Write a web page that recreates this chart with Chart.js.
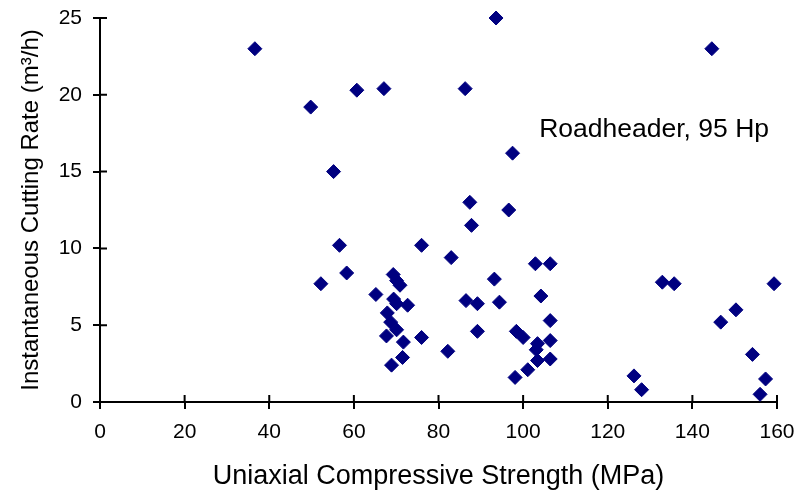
<!DOCTYPE html>
<html>
<head>
<meta charset="utf-8">
<script src="https://cdn.jsdelivr.net/npm/chart.js@4/dist/chart.umd.min.js"></script>
<style>
  body { margin: 0; background: #fff; }
</style>
</head>
<body>
<canvas id="chart" width="799" height="495"></canvas>
<script>
// UCS (MPa) and instantaneous cutting rate (m3/h)
const ucs = [
  36.6, 49.8, 60.7, 67.1, 55.2, 56.6, 93.6, 144.6, 86.3, 97.5,
  87.4, 96.6, 87.8, 76.0, 83.0, 58.3, 52.2, 69.3, 70.1, 70.9,
  65.2, 69.4, 70.1, 72.7, 67.9, 68.7, 70.1, 67.7, 71.7, 76.0,
  71.5, 68.9, 82.2, 102.9, 106.4, 93.2, 104.2, 86.5, 89.2, 94.4,
  106.4, 89.2, 98.4, 100.0, 103.4, 103.1, 106.4, 103.4, 106.4, 101.1,
  98.1, 132.9, 135.7, 159.3, 150.3, 146.7, 154.2, 126.2, 128.0, 157.3,
  156.0
];
const cuttingRate = [
  23.0, 19.2, 20.3, 20.4, 15.0, 10.2, 25.0, 23.0, 20.4, 16.2,
  13.0, 12.5, 11.5, 10.2, 9.4, 8.4, 7.7, 8.3, 7.9, 7.6,
  7.0, 6.7, 6.4, 6.3, 5.8, 5.2, 4.7, 4.3, 3.9, 4.2,
  2.9, 2.4, 3.3, 9.0, 9.0, 8.0, 6.9, 6.6, 6.4, 6.5,
  5.3, 4.6, 4.6, 4.2, 3.8, 3.4, 4.0, 2.7, 2.8, 2.1,
  1.6, 7.8, 7.7, 7.7, 6.0, 5.2, 3.1, 1.7, 0.8, 1.5,
  0.5
];
const xTicks = [0, 20, 40, 60, 80, 100, 120, 140, 160];
const yTicks = [0, 5, 10, 15, 20, 25];
const noteText = 'Roadheader, 95 Hp';
const noteAt = [103.8, 17.7];

Chart.defaults.font.family = '"Liberation Sans", Arial, sans-serif';
Chart.defaults.color = '#000';

// inner half of the crossing tick marks + the text label
const extras = {
  id: 'extras',
  afterDraw(chart) {
    const { ctx, scales: { x, y } } = chart;
    ctx.save();
    ctx.strokeStyle = '#000';
    ctx.lineWidth = 2;
    ctx.beginPath();
    xTicks.forEach(v => {
      const px = x.getPixelForValue(v);
      ctx.moveTo(px, y.bottom);
      ctx.lineTo(px, y.bottom - 7);
    });
    yTicks.forEach(v => {
      const py = y.getPixelForValue(v);
      ctx.moveTo(x.left, py);
      ctx.lineTo(x.left + 7, py);
    });
    ctx.stroke();
    ctx.font = '26.5px "Liberation Sans", Arial, sans-serif';
    ctx.fillStyle = '#000';
    ctx.textBaseline = 'middle';
    ctx.fillText(noteText, x.getPixelForValue(noteAt[0]), y.getPixelForValue(noteAt[1]));
    ctx.restore();
  }
};

const ctx = document.getElementById('chart').getContext('2d');
new Chart(ctx, {
  type: 'scatter',
  data: {
    datasets: [{
      data: ucs.map((v, i) => ({ x: v, y: cuttingRate[i] })),
      pointStyle: 'rectRot',
      pointRadius: 7,
      borderWidth: 1,
      backgroundColor: '#000080',
      borderColor: '#000080',
      clip: false
    }]
  },
  options: {
    responsive: false,
    animation: false,
    layout: { padding: { top: 18, right: 22, left: 0, bottom: 0 } },
    plugins: { legend: { display: false }, tooltip: { enabled: false } },
    scales: {
      x: {
        type: 'linear',
        min: 0,
        max: 160,
        afterFit: s => { s.height = 93; s.paddingLeft = 0; s.paddingRight = 0; },
        afterBuildTicks: s => { s.ticks = xTicks.map(v => ({ value: v })); },
        border: { color: '#000', width: 2 },
        grid: { drawOnChartArea: false, tickLength: 7, color: '#000', lineWidth: 2 },
        ticks: { font: { size: 21 }, padding: 11, maxRotation: 0 },
        title: {
          display: true,
          text: 'Uniaxial Compressive Strength (MPa)',
          font: { size: 27 },
          padding: { top: 0, bottom: 2 }
        }
      },
      y: {
        min: 0,
        max: 25,
        afterFit: s => { s.width = 100; s.paddingTop = 0; s.paddingBottom = 0; },
        afterBuildTicks: s => { s.ticks = yTicks.map(v => ({ value: v })); },
        border: { color: '#000', width: 2 },
        grid: { drawOnChartArea: false, tickLength: 7, color: '#000', lineWidth: 2 },
        ticks: { font: { size: 21 }, padding: 11 },
        title: {
          display: true,
          text: 'Instantaneous Cutting Rate (m³/h)',
          font: { size: 24 },
          padding: { top: 17, bottom: 0 }
        }
      }
    }
  },
  plugins: [extras]
});
</script>
</body>
</html>
